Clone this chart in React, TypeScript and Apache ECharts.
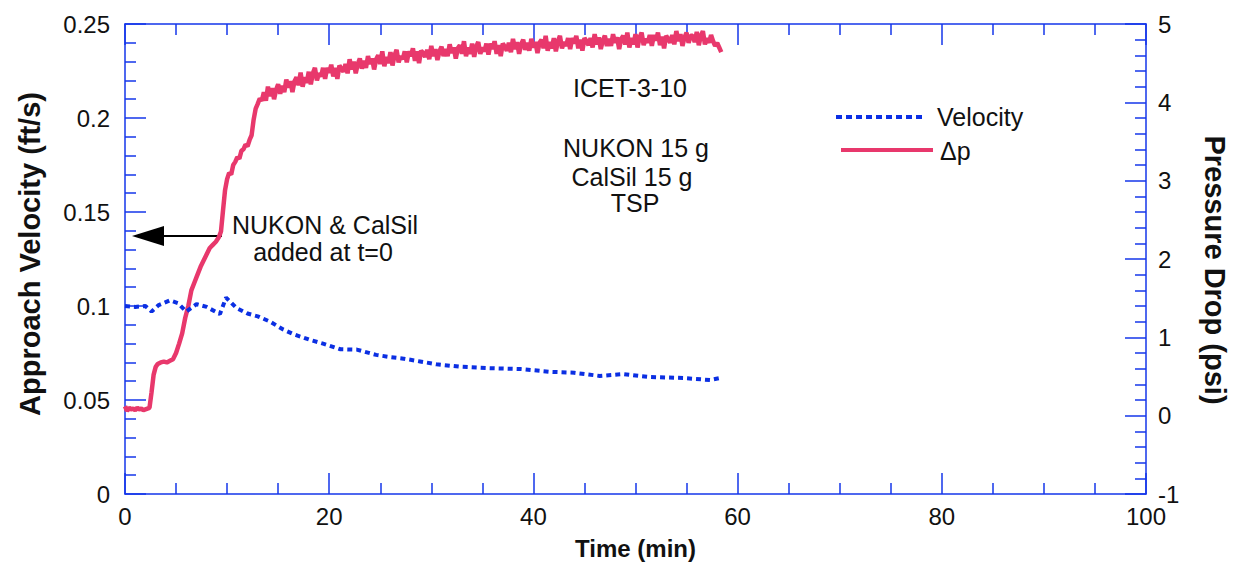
import React, { useEffect, useRef } from "react";
import * as echarts from "echarts";

// ---- data ----
const timeTicks = [0, 20, 40, 60, 80, 100];

// Approach velocity (ft/s) vs time (min)
const velocityData: [number, number][] = [
  [0, 0.1], [1, 0.0995], [2, 0.1], [2.6, 0.097], [3.3, 0.1005], [4.4, 0.103],
  [5.2, 0.1015], [6.0, 0.097], [7.0, 0.101], [8.0, 0.0995], [9.3, 0.0957],
  [9.9, 0.1045], [10.9, 0.099], [12.0, 0.096], [13.0, 0.0945], [14.2, 0.0917],
  [15.5, 0.0875], [16.5, 0.085], [18.1, 0.082], [19.4, 0.08], [21.1, 0.077],
  [22.7, 0.0768], [24.6, 0.074], [26.0, 0.0728], [27.3, 0.072], [28.9, 0.0705],
  [30.5, 0.069], [32.8, 0.0677], [35.4, 0.067], [38.7, 0.0665], [41.6, 0.065],
  [44.0, 0.0645], [46.5, 0.0628], [48.8, 0.0638], [51.4, 0.0622], [54.7, 0.0617],
  [57.3, 0.0606], [58.3, 0.0617],
];

// Pressure drop (psi): early rise, [time, psi]
const dpRise: [number, number][] = [
  [0.0, 0.12], [0.2, 0.06], [0.4, 0.1], [0.6, 0.08], [0.8, 0.09], [1.0, 0.07],
  [1.2, 0.1], [1.4, 0.08], [1.6, 0.09], [1.8, 0.07], [2.0, 0.08], [2.2, 0.09],
  [2.4, 0.1], [2.6, 0.3], [2.8, 0.52], [3.0, 0.62], [3.2, 0.66], [3.5, 0.68],
  [3.8, 0.69], [4.1, 0.68], [4.4, 0.7], [4.7, 0.72], [5.0, 0.8], [5.3, 0.92],
  [5.6, 1.05], [5.9, 1.25], [6.2, 1.4], [6.5, 1.6], [6.8, 1.7], [7.1, 1.8],
  [7.4, 1.9], [7.7, 1.98], [8.0, 2.06], [8.3, 2.14], [8.6, 2.18], [8.9, 2.22],
  [9.2, 2.28], [9.4, 2.35], [9.6, 2.62], [9.8, 2.88], [10.0, 3.02], [10.2, 3.1],
  [10.4, 3.08], [10.6, 3.2], [10.8, 3.24], [11.0, 3.3], [11.2, 3.28], [11.4, 3.38],
  [11.6, 3.4], [11.8, 3.46], [12.0, 3.44], [12.2, 3.52], [12.4, 3.58], [12.6, 3.78],
  [12.8, 3.92], [13.0, 3.98], [13.2, 4.05], [13.4, 4.02],
];

// Pressure drop (psi): noisy plateau, sampled every 0.2 min from 13.6 min
const dpPlateauStart = 13.6;
const dpPlateauStep = 0.2;
const dpPlateau: number[] = [
  4.13, 4.02, 4.2, 4.08, 4.18, 4.04, 4.16, 4.23, 4.11, 4.21,
  4.13, 4.29, 4.19, 4.27, 4.13, 4.27, 4.32, 4.22, 4.38, 4.2,
  4.32, 4.25, 4.39, 4.23, 4.37, 4.44, 4.28, 4.37, 4.33, 4.44,
  4.3, 4.44, 4.38, 4.48, 4.33, 4.44, 4.3, 4.47, 4.43, 4.39,
  4.49, 4.37, 4.55, 4.42, 4.52, 4.37, 4.49, 4.56, 4.43, 4.53,
  4.44, 4.59, 4.49, 4.56, 4.42, 4.55, 4.6, 4.49, 4.65, 4.46,
  4.58, 4.5, 4.64, 4.47, 4.6, 4.67, 4.51, 4.59, 4.55, 4.65,
  4.51, 4.65, 4.59, 4.69, 4.53, 4.65, 4.5, 4.66, 4.63, 4.58,
  4.67, 4.55, 4.72, 4.59, 4.68, 4.54, 4.65, 4.71, 4.59, 4.68,
  4.59, 4.74, 4.63, 4.7, 4.56, 4.69, 4.73, 4.62, 4.78, 4.59,
  4.7, 4.62, 4.75, 4.58, 4.71, 4.77, 4.62, 4.7, 4.65, 4.75,
  4.61, 4.75, 4.68, 4.78, 4.62, 4.73, 4.59, 4.75, 4.71, 4.66,
  4.76, 4.64, 4.81, 4.68, 4.77, 4.62, 4.74, 4.8, 4.67, 4.76,
  4.66, 4.81, 4.7, 4.77, 4.63, 4.76, 4.8, 4.69, 4.85, 4.66,
  4.77, 4.69, 4.82, 4.65, 4.78, 4.85, 4.69, 4.77, 4.72, 4.82,
  4.68, 4.82, 4.75, 4.85, 4.69, 4.8, 4.66, 4.82, 4.78, 4.73,
  4.82, 4.7, 4.87, 4.74, 4.83, 4.68, 4.79, 4.85, 4.72, 4.81,
  4.72, 4.87, 4.76, 4.83, 4.68, 4.81, 4.85, 4.74, 4.89, 4.7,
  4.82, 4.74, 4.87, 4.7, 4.83, 4.89, 4.73, 4.81, 4.76, 4.86,
  4.72, 4.86, 4.79, 4.89, 4.73, 4.84, 4.69, 4.85, 4.81, 4.76,
  4.86, 4.74, 4.91, 4.78, 4.87, 4.72, 4.83, 4.89, 4.76, 4.85,
  4.85, 4.77, 4.9, 4.73, 4.85, 4.91, 4.74, 4.82, 4.76, 4.86,
  4.78, 4.72, 4.76, 4.7, 4.64,
];

const AXIS_BLUE = "#1436ea";
const DOT_BLUE = "#0b2fe3";
const PINK = "#e8386c";
const FONT = "Liberation Sans, Arial, sans-serif";

export default function App() {
  const ref = useRef<HTMLDivElement>(null);

  useEffect(() => {
    if (!ref.current) return;
    const chart = echarts.init(ref.current, undefined, { renderer: "svg" });

    const dpData: [number, number][] = [
      ...dpRise,
      ...dpPlateau.map((p, i): [number, number] => [
        +(dpPlateauStart + i * dpPlateauStep).toFixed(2),
        p,
      ]),
    ];

    const axisLine = { show: true, onZero: false, lineStyle: { color: AXIS_BLUE, width: 1.5 } };
    const majorTick = (len: number) => ({ show: true, inside: true, length: len, lineStyle: { color: AXIS_BLUE, width: 1.5 } });
    const minorTick = (split: number) => ({ show: true, splitNumber: split, length: 11, lineStyle: { color: AXIS_BLUE, width: 1.5 } });
    const labelStyle = { color: "#111", fontSize: 24, fontFamily: FONT };
    const nameStyle = { color: "#111", fontSize: 24, fontWeight: "bold" as const, fontFamily: FONT };

    const txt = (text: string, x: number, y: number, align = "center", size = 25) => ({
      type: "text",
      x,
      y,
      style: { text, fill: "#111", fontSize: size, fontFamily: FONT, align, verticalAlign: "middle" },
    });
    const vTitle = (text: string, x: number, y: number, rotation: number) => ({
      type: "text",
      x,
      y,
      rotation,
      style: {
        text,
        fill: "#111",
        fontSize: 29,
        fontWeight: "bold",
        fontFamily: FONT,
        align: "center",
        verticalAlign: "middle",
      },
    });

    chart.setOption({
      animation: false,
      backgroundColor: "#fff",
      grid: { left: 125, right: 93, top: 24, bottom: 75, containLabel: false, outerBoundsMode: "none" },
      xAxis: [
        {
          type: "value",
          min: timeTicks[0],
          max: timeTicks[timeTicks.length - 1],
          interval: 20,
          position: "bottom",
          name: "Time (min)",
          nameLocation: "middle",
          nameGap: 42,
          nameTextStyle: nameStyle,
          axisLine,
          axisTick: majorTick(21),
          minorTick: minorTick(4),
          axisLabel: { ...labelStyle, margin: 10 },
          splitLine: { show: false },
        },
        {
          type: "value",
          min: 0,
          max: 100,
          interval: 20,
          position: "top",
          axisLine,
          axisTick: majorTick(21),
          minorTick: minorTick(4),
          axisLabel: { show: false },
          splitLine: { show: false },
        },
      ],
      yAxis: [
        {
          type: "value",
          min: 0,
          max: 0.25,
          interval: 0.05,
          position: "left",
          axisLine,
          axisTick: majorTick(21),
          minorTick: minorTick(5),
          axisLabel: { ...labelStyle, margin: 15 },
          splitLine: { show: false },
        },
        {
          type: "value",
          min: -1,
          max: 5,
          interval: 1,
          position: "right",
          axisLine,
          axisTick: majorTick(21),
          minorTick: minorTick(5),
          axisLabel: { ...labelStyle, margin: 12 },
          splitLine: { show: false },
        },
      ],
      series: [
        {
          name: "Velocity",
          type: "line",
          xAxisIndex: 0,
          yAxisIndex: 0,
          data: velocityData,
          showSymbol: false,
          lineStyle: { color: DOT_BLUE, width: 4, type: [5, 4] },
          z: 3,
        },
        {
          name: "Δp",
          type: "line",
          xAxisIndex: 0,
          yAxisIndex: 1,
          data: dpData,
          showSymbol: false,
          lineStyle: { color: PINK, width: 4.5 },
          z: 2,
        },
      ],
      graphic: [
        // axis titles
        vTitle("Approach Velocity (ft/s)", 30, 254, Math.PI / 2),
        vTitle("Pressure Drop (psi)", 1215, 270, -Math.PI / 2),
        // legend
        { type: "line", shape: { x1: 836, y1: 117, x2: 926, y2: 117 }, style: { stroke: DOT_BLUE, lineWidth: 4, lineDash: [6, 4] } },
        txt("Velocity", 937, 117, "left"),
        { type: "line", shape: { x1: 841, y1: 150, x2: 933, y2: 150 }, style: { stroke: PINK, lineWidth: 4 } },
        txt("Δp", 940, 151, "left"),
        // annotations
        txt("ICET-3-10", 630, 88),
        txt("NUKON 15 g", 636, 148),
        txt("CalSil 15 g", 632, 177),
        txt("TSP", 635, 203),
        txt("NUKON & CalSil", 232, 225, "left"),
        txt("added at t=0", 323, 252),
        { type: "line", shape: { x1: 160, y1: 236, x2: 222, y2: 236 }, style: { stroke: "#000", lineWidth: 2 } },
        { type: "polygon", shape: { points: [[132, 236], [164, 226], [164, 246]] }, style: { fill: "#000" } },
      ],
    });

    return () => chart.dispose();
  }, []);

  return <div ref={ref} style={{ position: "fixed", left: 0, top: 0, width: 1239, height: 569 }} />;
}
